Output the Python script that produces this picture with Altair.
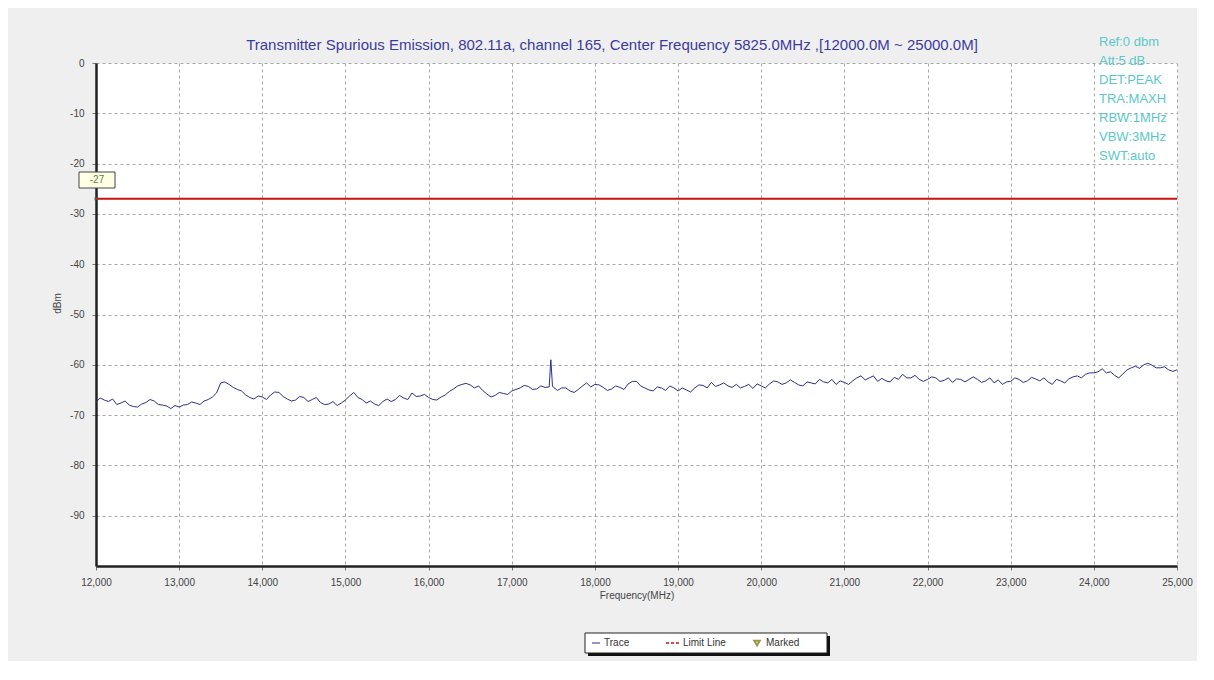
import altair as alt
import pandas as pd

# ---- data ----
freq_mhz = [12000, 12100, 12200, 12300, 12400, 12500, 12600, 12700, 12800, 12900,
            13000, 13100, 13200, 13300, 13400, 13500, 13600, 13700, 13800, 13900,
            14000, 14100, 14200, 14300, 14400, 14500, 14600, 14700, 14800, 14900,
            15000, 15100, 15200, 15300, 15400, 15500, 15600, 15700, 15800, 15900,
            16000, 16100, 16200, 16300, 16400, 16500, 16600, 16700, 16800, 16900,
            17000, 17100, 17200, 17300, 17400, 17450, 17470, 17490, 17600, 17700,
            17800, 17900, 18000, 18100, 18200, 18300, 18400, 18500, 18600, 18700,
            18800, 18900, 19000, 19100, 19200, 19300, 19400, 19500, 19600, 19700,
            19800, 19900, 20000, 20100, 20200, 20300, 20400, 20500, 20600, 20700,
            20800, 20900, 21000, 21100, 21200, 21300, 21400, 21500, 21600, 21700,
            21800, 21900, 22000, 22100, 22200, 22300, 22400, 22500, 22600, 22700,
            22800, 22900, 23000, 23100, 23200, 23300, 23400, 23500, 23600, 23700,
            23800, 23900, 24000, 24100, 24200, 24300, 24400, 24500, 24600, 24700,
            24800, 24900, 25000]
level_dbm = [-67.4, -67.0, -66.8, -67.6, -68.0, -68.4, -67.5, -67.2, -68.0, -68.7,
             -68.4, -67.9, -67.6, -67.2, -66.4, -63.6, -63.9, -64.9, -66.0, -66.8,
             -66.4, -66.0, -65.5, -66.8, -67.0, -66.5, -66.9, -67.5, -67.8, -68.1,
             -67.0, -65.5, -66.9, -67.2, -68.1, -66.8, -66.9, -66.6, -65.6, -66.2,
             -66.5, -67.0, -66.0, -64.8, -63.9, -64.0, -64.2, -65.8, -66.1, -65.7,
             -65.2, -64.6, -64.3, -64.8, -64.5, -64.4, -59.0, -64.3, -64.6, -65.2,
             -64.9, -63.6, -63.9, -64.5, -64.8, -64.5, -63.8, -63.3, -64.6, -65.2,
             -64.6, -64.2, -65.2, -65.0, -64.6, -64.1, -63.5, -64.0, -64.2, -63.9,
             -64.3, -64.7, -64.2, -63.8, -63.4, -63.6, -63.5, -64.2, -63.6, -62.9,
             -63.6, -63.9, -63.5, -63.2, -62.2, -62.6, -63.3, -63.2, -62.5, -61.9,
             -62.6, -62.9, -62.9, -62.6, -63.1, -63.5, -62.9, -62.9, -62.9, -63.2,
             -63.6, -63.9, -63.3, -62.9, -63.2, -62.8, -62.6, -63.9, -63.2, -62.8,
             -62.2, -61.9, -61.6, -60.8, -61.4, -62.6, -61.0, -60.3, -60.0, -60.1,
             -60.6, -61.0, -61.0]
# intermediate readings (noise between the 100 MHz readings)
freq_mid_mhz = [12050, 12150, 12250, 12350, 12450, 12550, 12650, 12750, 12850, 12950,
                13050, 13150, 13250, 13350, 13450, 13550, 13650, 13750, 13850, 13950,
                14050, 14150, 14250, 14350, 14450, 14550, 14650, 14750, 14850, 14950,
                15050, 15150, 15250, 15350, 15450, 15550, 15650, 15750, 15850, 15950,
                16050, 16150, 16250, 16350, 16450, 16550, 16650, 16750, 16850, 16950,
                17050, 17150, 17250, 17350, 17550, 17650, 17750, 17850, 17950,
                18050, 18150, 18250, 18350, 18450, 18550, 18650, 18750, 18850, 18950,
                19050, 19150, 19250, 19350, 19450, 19550, 19650, 19750, 19850, 19950,
                20050, 20150, 20250, 20350, 20450, 20550, 20650, 20750, 20850, 20950,
                21050, 21150, 21250, 21350, 21450, 21550, 21650, 21750, 21850, 21950,
                22050, 22150, 22250, 22350, 22450, 22550, 22650, 22750, 22850, 22950,
                23050, 23150, 23250, 23350, 23450, 23550, 23650, 23750, 23850, 23950,
                24050, 24150, 24250, 24350, 24450, 24550, 24650, 24750, 24850, 24950]
level_mid_dbm = [-66.6, -67.3, -67.9, -67.2, -68.3, -67.8, -66.9, -67.9, -68.2, -68.1,
                 -68.0, -67.4, -67.9, -66.9, -65.6, -63.4, -64.5, -65.2, -66.5, -66.2,
                 -66.9, -65.4, -66.3, -67.2, -66.3, -67.3, -66.5, -67.9, -67.3, -67.6,
                 -66.2, -66.5, -67.6, -67.8, -67.3, -67.3, -66.1, -66.9, -66.3, -65.9,
                 -66.9, -66.4, -65.3, -64.2, -63.7, -64.6, -65.1, -66.4, -65.5, -65.9,
                 -64.9, -64.1, -64.9, -64.2, -65.1, -64.6, -65.5, -64.2, -64.4,
                 -64.0, -65.1, -64.2, -64.9, -63.3, -64.2, -65.0, -64.4, -65.1, -64.6,
                 -64.6, -65.4, -64.0, -64.6, -64.3, -63.6, -64.5, -64.6, -63.9, -63.8,
                 -64.6, -63.2, -63.9, -63.0, -64.0, -63.4, -63.8, -63.4, -62.9, -63.2,
                 -63.9, -62.6, -63.0, -62.2, -62.7, -63.4, -62.9, -62.6, -62.1, -63.3,
                 -62.4, -63.3, -62.6, -62.8, -63.4, -62.4, -63.5, -62.6, -63.0, -63.4,
                 -62.6, -63.5, -62.5, -63.2, -63.4, -62.9, -63.6, -62.4, -62.6, -61.6,
                 -61.4, -61.6, -62.1, -61.8, -60.6, -60.7, -59.7, -60.6, -60.4, -61.3]
limit_start = [12000]
limit_end = [25000]
limit_level = [-27]
limit_label = ["-27"]
x_ticks = list(range(12000, 25001, 1000))
y_ticks = [0, -10, -20, -30, -40, -50, -60, -70, -80, -90]
title_text = "Transmitter Spurious Emission, 802.11a, channel 165, Center Frequency 5825.0MHz ,[12000.0M ~ 25000.0M]"
info_lines = ["Ref:0 dbm", "Att:5 dB", "DET:PEAK", "TRA:MAXH", "RBW:1MHz", "VBW:3MHz", "SWT:auto"]
legend_labels = ["Trace", "Limit Line", "Marked"]

FONT = "Liberation Sans"
W, H = 1081, 503

trace_df = pd.DataFrame({"f": freq_mhz + freq_mid_mhz, "p": level_dbm + level_mid_dbm})
limit_df = pd.DataFrame({"f": limit_start, "f2": limit_end, "p": limit_level, "lab": limit_label})

xs = alt.Scale(domain=[12000, 25000], nice=False, zero=False)
ys = alt.Scale(domain=[-100, 0], nice=False, zero=False)

xaxis = alt.Axis(values=x_ticks, labelExpr="format(datum.value, ',')", title="Frequency(MHz)",
                 titleFontSize=10, titleFontWeight="normal", titlePadding=3, labelPadding=7,
                 labelFlush=False, grid=True)
yaxis = alt.Axis(values=y_ticks, labelExpr="'' + datum.value", title="dBm", titleFontSize=10,
                 titleFontWeight="normal", titleX=-34, titleY=240, labelPadding=8,
                 labelFlush=False, grid=True)

trace = alt.Chart(trace_df).mark_line(color="#2e2e8e", strokeWidth=1).encode(
    x=alt.X("f:Q", scale=xs, axis=xaxis),
    y=alt.Y("p:Q", scale=ys, axis=yaxis),
    order="f:Q",
)

limit = alt.Chart(limit_df).mark_rule(color="#cc1010", strokeWidth=2).encode(
    x="f:Q", x2="f2:Q", y="p:Q"
)

marker = alt.Chart(limit_df).mark_point(shape="square", size=10, filled=True, color="#555").encode(
    x="f:Q", y="p:Q"
)
label_box = alt.Chart(limit_df).mark_rect(fill="#ffffe6", stroke="#444", strokeWidth=1).encode(
    x=alt.value(-17), x2=alt.value(19), y=alt.value(109), y2=alt.value(125)
)
label_txt = alt.Chart(limit_df).mark_text(font=FONT, fontSize=10, color="#5f7f3f").encode(
    x=alt.value(1), y=alt.value(117), text="lab:N"
)

title = alt.Chart(pd.DataFrame({"t": [title_text]})).mark_text(
    font=FONT, fontSize=15, color="#3b3b9e"
).encode(x=alt.value(516), y=alt.value(-18), text="t:N")

info = alt.Chart(pd.DataFrame({"t": ["\n".join(info_lines)]})).mark_text(
    font=FONT, fontSize=13, color="#5cc8c8", align="left", baseline="top",
    lineBreak="\n", lineHeight=19
).encode(x=alt.value(1003), y=alt.value(-27), text="t:N")

# legend box
leg_base = alt.Chart(pd.DataFrame({"k": [0]}))
leg_shadow = leg_base.mark_rect(fill="#111").encode(
    x=alt.value(492), x2=alt.value(734), y=alt.value(573), y2=alt.value(593))
leg_box = leg_base.mark_rect(fill="white", stroke="#222", strokeWidth=1).encode(
    x=alt.value(489), x2=alt.value(731), y=alt.value(570), y2=alt.value(590))
leg_l1 = leg_base.mark_rule(color="#2e2e8e", strokeWidth=1).encode(
    x=alt.value(496), x2=alt.value(504), y=alt.value(580))
leg_l2 = leg_base.mark_rule(color="#cc1010", strokeWidth=1.5, strokeDash=[3, 2]).encode(
    x=alt.value(570), x2=alt.value(583), y=alt.value(580))
leg_tri = leg_base.mark_point(shape="triangle-down", size=30, filled=False, color="#6b6b00").encode(
    x=alt.value(661), y=alt.value(580))
leg_t1 = leg_base.mark_text(font=FONT, fontSize=10, color="#333", align="left", text=legend_labels[0]).encode(
    x=alt.value(508), y=alt.value(580))
leg_t2 = leg_base.mark_text(font=FONT, fontSize=10, color="#333", align="left", text=legend_labels[1]).encode(
    x=alt.value(587), y=alt.value(580))
leg_t3 = leg_base.mark_text(font=FONT, fontSize=10, color="#333", align="left", text=legend_labels[2]).encode(
    x=alt.value(670), y=alt.value(580))

chart = alt.layer(
    trace, limit, marker, label_box, label_txt, title, info,
    leg_shadow, leg_box, leg_l1, leg_l2, leg_tri, leg_t1, leg_t2, leg_t3
).properties(
    width=W, height=H,
    autosize=alt.AutoSizeParams(type="none"),
    padding={"left": 88, "top": 55, "right": 20, "bottom": 95},
    background="#efefef",
).configure_view(fill="white", strokeOpacity=0).configure_axis(
    labelFont=FONT, titleFont=FONT, labelFontSize=10, labelColor="#444", titleColor="#444",
    domainColor="#222", domainWidth=2.5, tickColor="#777", tickSize=4,
    gridColor="#a8a8a8", gridDash=[3, 3], gridWidth=1,
)

chart.save("out.html", embed_options={"renderer": "svg", "actions": False})
